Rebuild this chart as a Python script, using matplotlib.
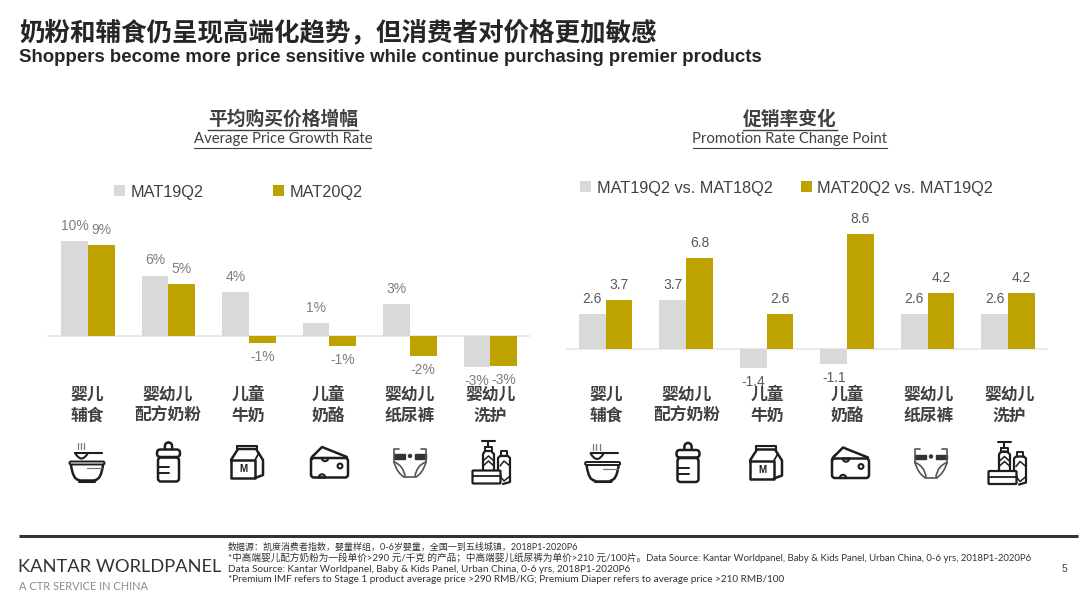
import matplotlib
matplotlib.use("Agg")
import matplotlib.pyplot as plt
import numpy as np
from matplotlib.patches import FancyBboxPatch, Rectangle, Circle, PathPatch, Wedge
from matplotlib.path import Path
from matplotlib import transforms

categories = ["婴儿\n辅食", "婴幼儿\n配方奶粉", "儿童\n牛奶", "儿童\n奶酪", "婴幼儿\n纸尿裤", "婴幼儿\n洗护"]
price_19 = [9.55, 6.05, 4.4, 1.3, 3.2, -3.1]
price_20 = [9.1, 5.2, -0.7, -0.95, -2.0, -3.0]
promo_19 = [2.6, 3.7, -1.4, -1.1, 2.65, 2.65]
promo_20 = [3.7, 6.8, 2.6, 8.6, 4.2, 4.2]
price_names = ["MAT19Q2", "MAT20Q2"]
promo_names = ["MAT19Q2 vs. MAT18Q2", "MAT20Q2 vs. MAT19Q2"]
title_cn = "奶粉和辅食仍呈现高端化趋势，但消费者对价格更加敏感"
title_en = "Shoppers become more price sensitive while continue purchasing premier products"
head_l = ("平均购买价格增幅", "Average Price Growth Rate")
head_r = ("促销率变化", "Promotion Rate Change Point")
footer = [
    "数据源：凯度消费者指数，婴童样组，0-6岁婴童，全国一到五线城镇，2018P1-2020P6",
    "*中高端婴儿配方奶粉为一段单价>290 元/千克 的产品；中高端婴儿纸尿裤为单价>210 元/100片。Data Source: Kantar Worldpanel, Baby & Kids Panel, Urban China, 0-6 yrs, 2018P1-2020P6",
    "Data Source: Kantar Worldpanel, Baby & Kids Panel, Urban China, 0-6 yrs, 2018P1-2020P6",
    "*Premium IMF refers to Stage 1 product average price >290 RMB/KG; Premium Diaper refers to average price >210 RMB/100",
]
footer_sizes = [6.45, 6.95, 7.2, 7.2]

GRAY, GOLD = "#D9D9D9", "#BDA200"
W, H = 1080, 598
CJK = ["Noto Sans CJK SC", "DejaVu Sans"]
plt.rcParams["font.family"] = ["Liberation Sans", "Noto Sans CJK SC", "DejaVu Sans"]

fig = plt.figure(figsize=(W / 100, H / 100), dpi=100, facecolor="white")


def chart(series_a, series_b, names, px_left, px_right, px_center0, px_step, px_base, px_scale,
          fmt, label_color, leg_xy, colspace):
    top, bottom = 215, 392
    ax = fig.add_axes([px_left / W, 1 - bottom / H, (px_right - px_left) / W, (bottom - top) / H])
    ax.set_xlim((px_left - px_center0) / px_step, (px_right - px_center0) / px_step)
    ax.set_ylim((px_base - bottom) / px_scale, (px_base - top) / px_scale)
    ax.axis("off")
    ax.axhline(0, color="#E4E4E4", lw=1.1, zorder=1)
    x = np.arange(len(series_a))
    w = 26.7 / px_step
    b1 = ax.bar(x - w / 2, series_a, w, color=GRAY, zorder=2, label=names[0])
    b2 = ax.bar(x + w / 2, series_b, w, color=GOLD, zorder=2, label=names[1])
    for bars, vals in ((b1, series_a), (b2, series_b)):
        for r, v in zip(bars, vals):
            off = 15 if v >= 0 else -14
            ax.annotate(fmt(v), (r.get_x() + r.get_width() / 2, v), xytext=(0, off),
                        textcoords="offset pixels", ha="center", va="center",
                        fontsize=10, color=label_color, zorder=5)
    ax.legend(loc="center left", bbox_to_anchor=(leg_xy[0] / W, 1 - leg_xy[1] / H),
              bbox_transform=fig.transFigure, ncol=2, frameon=False, borderaxespad=0, borderpad=0,
              fontsize=11.7, handlelength=0.69, handleheight=0.69, handletextpad=0.33,
              columnspacing=colspace, labelcolor="#404040")
    return ax


chart(price_19, price_20, price_names, 47, 530, 88, 80.45, 336, 10,
      lambda v: f"{v:.0f}%", "#7F7F7F", (114, 192), 4.25)
chart(promo_19, promo_20, promo_names, 566, 1048, 605.6, 80.5, 349.3, 13.4,
      lambda v: f"{v:.1f}", "#595959", (580, 188), 1.75)

ov = fig.add_axes([0, 0, 1, 1], zorder=10)
ov.set_xlim(0, W)
ov.set_ylim(H, 0)
ov.axis("off")
ov.patch.set_alpha(0)

ov.text(19, 33, title_cn, family=CJK, fontsize=18.4, fontweight="bold", color="#262626", va="center")
ov.text(19, 57, title_en, fontsize=13.4, fontweight="bold", color="#262626", va="center")

for (cn, en), cx in ((head_l, 283), (head_r, 790)):
    ov.text(cx, 119, cn, family=CJK, fontsize=13.5, fontweight="bold", color="#404040", ha="center", va="center")
    ov.text(cx, 139, en, family=["Lato"], fontsize=10.7, color="#404040", ha="center", va="center")
ov.plot([208, 358], [130, 130], color="#404040", lw=1.0)
ov.plot([194, 371], [148, 148], color="#404040", lw=0.8)
ov.plot([743, 837], [130, 130], color="#404040", lw=1.0)
ov.plot([693, 887], [148, 148], color="#404040", lw=0.8)

for x0 in (87, 606):
    for i, c in enumerate(categories):
        ov.text(x0 + 80.6 * i, 405.5, c, family=CJK, fontsize=12.1, fontweight="bold", color="#404040",
                ha="center", va="center", linespacing=1.2)

INK = "#1E1E1E"


def stroke(verts, tr, lw=1.8, color=INK, closed=False):
    xs, ys = zip(*verts)
    if closed:
        xs, ys = xs + xs[:1], ys + ys[:1]
    ov.plot(xs, ys, color=color, lw=lw, transform=tr, solid_joinstyle="round", solid_capstyle="round")


def curve(p0, c, p1, tr, lw=1.8, color=INK):
    ov.add_patch(PathPatch(Path([p0, c, p1], [Path.MOVETO, Path.CURVE3, Path.CURVE3]), fill=False,
                           edgecolor=color, lw=lw, transform=tr, capstyle="round"))


def rrect(x, y, w, h, r, tr, lw=1.8):
    ov.add_patch(FancyBboxPatch((x + r, y + r), w - 2 * r, h - 2 * r, boxstyle=f"round,pad={r}",
                                fill=False, edgecolor=INK, lw=lw, transform=tr))


def bowl(tr):
    for x in (77.5, 80.5, 84):
        stroke([(x, 443), (x, 449)], tr, lw=0.9, color="#777777")
    stroke([(75, 452.7), (102, 452.7)], tr, lw=1.5)
    curve((75, 453), (81.5, 464), (88, 453), tr, lw=1.5)
    rrect(69.5, 461.5, 35, 3, 1.5, tr, lw=1.4)
    curve((71, 465), (73, 480), (79, 480), tr)
    curve((103, 465), (101, 480), (95, 480), tr)
    stroke([(79, 480), (95, 480)], tr)
    stroke([(79, 481.5), (95, 481.5)], tr, lw=1.5)
    stroke([(87, 468), (102, 468)], tr, lw=0.9, color="#777777")


def bottle(tr):
    curve((165, 449), (164, 442.5), (168.5, 442.5), tr)
    curve((172, 449), (173, 442.5), (168.5, 442.5), tr)
    rrect(157, 449.5, 23, 7.5, 3.5, tr)
    rrect(158, 457.5, 21, 24, 3, tr)
    stroke([(158, 467), (169, 467)], tr, lw=1.4)
    stroke([(158, 473), (169, 473)], tr, lw=1.4)


def milk(tr):
    stroke([(231, 460), (255, 460), (255, 478), (231, 478)], tr, closed=True)
    stroke([(231, 460), (238, 449), (256, 449), (263, 460), (263, 475), (255, 478)], tr)
    stroke([(255, 460), (259, 453)], tr, lw=1.3)
    stroke([(237, 449), (237, 445.5), (257, 445.5), (257, 449)], tr, lw=1.5)
    ov.text(243, 469.5, "M", transform=tr, fontsize=7, fontweight="bold", color=INK, ha="center", va="center")


def cheese(tr):
    curve((311, 460), (311, 457), (314, 455), tr)
    stroke([(314, 455), (322, 447), (347, 457)], tr)
    rrect(311, 458, 37, 19.5, 3, tr)
    ov.add_patch(Wedge((325, 458), 3.2, 0, 180, width=None, fill=False, edgecolor=INK, lw=1.5, transform=tr))
    ov.add_patch(Circle((340, 466), 2.4, fill=False, edgecolor=INK, lw=1.5, transform=tr))
    ov.add_patch(Wedge((322, 477.5), 3.2, 180, 360, fill=False, edgecolor=INK, lw=1.5, transform=tr))


def diaper(tr):
    c = "#555555"
    stroke([(399, 448.5), (394, 448.5), (394, 462)], tr, lw=1.2, color=c)
    stroke([(421, 448.5), (426, 448.5), (426, 462)], tr, lw=1.2, color=c)
    ov.add_patch(Rectangle((394, 454), 11, 4.5, color="#333333", transform=tr))
    ov.add_patch(Rectangle((415, 454), 11, 4.5, color="#333333", transform=tr))
    ov.add_patch(Circle((410, 456), 1.5, color="#333333", transform=tr))
    curve((394, 462), (397, 473), (404, 477), tr, lw=1.2, color=c)
    curve((426, 462), (423, 473), (416, 477), tr, lw=1.2, color=c)
    stroke([(404, 477), (416, 477)], tr, lw=1.2, color=c)
    curve((394, 462), (403, 465), (405, 476), tr, lw=1.2, color=c)
    curve((426, 462), (417, 465), (415, 476), tr, lw=1.2, color=c)


def toiletries(tr):
    stroke([(482, 441), (495, 441)], tr, lw=1.5)
    stroke([(488, 441), (488, 447)], tr, lw=1.5)
    stroke([(484.5, 447), (491.5, 447), (491.5, 451), (484.5, 451)], tr, closed=True, lw=1.4)
    stroke([(483, 470), (483, 454), (485, 451), (491, 451), (494, 454), (494, 470)], tr, lw=1.6)
    stroke([(483, 461), (488.5, 456), (494, 461)], tr, lw=1.1)
    stroke([(483, 466), (488.5, 461), (494, 466)], tr, lw=1.1)
    stroke([(501, 456), (501, 451), (507, 451), (507, 456)], tr, lw=1.4)
    stroke([(498, 470), (498, 458), (500, 456), (508, 456), (510, 458), (510, 482), (503, 484)], tr, lw=1.6)
    stroke([(500, 466), (504, 461), (510, 466)], tr, lw=1.1)
    stroke([(500, 476), (504, 481), (510, 476)], tr, lw=1.1)
    rrect(472.5, 470.5, 28, 13, 1, tr, lw=1.6)
    stroke([(472.5, 476), (500.5, 476)], tr, lw=1.3)


icon_funcs = [(bowl, 515.6), (bottle, 519.5), (milk, 519), (cheese, 521), (diaper, 521), (toiletries, 516)]
for fn, shift in icon_funcs:
    fn(ov.transData)
    fn(transforms.Affine2D().translate(shift, 0.5) + ov.transData)

ov.plot([19, 1078], [536, 536], color="#333333", lw=2.2, solid_capstyle="butt")
ov.text(18, 567.5, "KANTAR WORLDPANEL", family=["Lato"], fontsize=13.2, color="#333333", va="center")
ov.text(19, 586, "A CTR SERVICE IN CHINA", family=["Lato"], fontsize=7.9, color="#8C8C8C", va="center")
for s, y, fs in zip(footer, (547, 557.5, 569, 579.5), footer_sizes):
    ov.text(228, y, s, family=["Lato", "Noto Sans CJK SC", "DejaVu Sans"], fontsize=fs, color="#333333", va="center")
ov.text(1064, 569, "5", fontsize=7.5, color="#404040", ha="center", va="center")

fig.savefig("out.png", dpi=100)
